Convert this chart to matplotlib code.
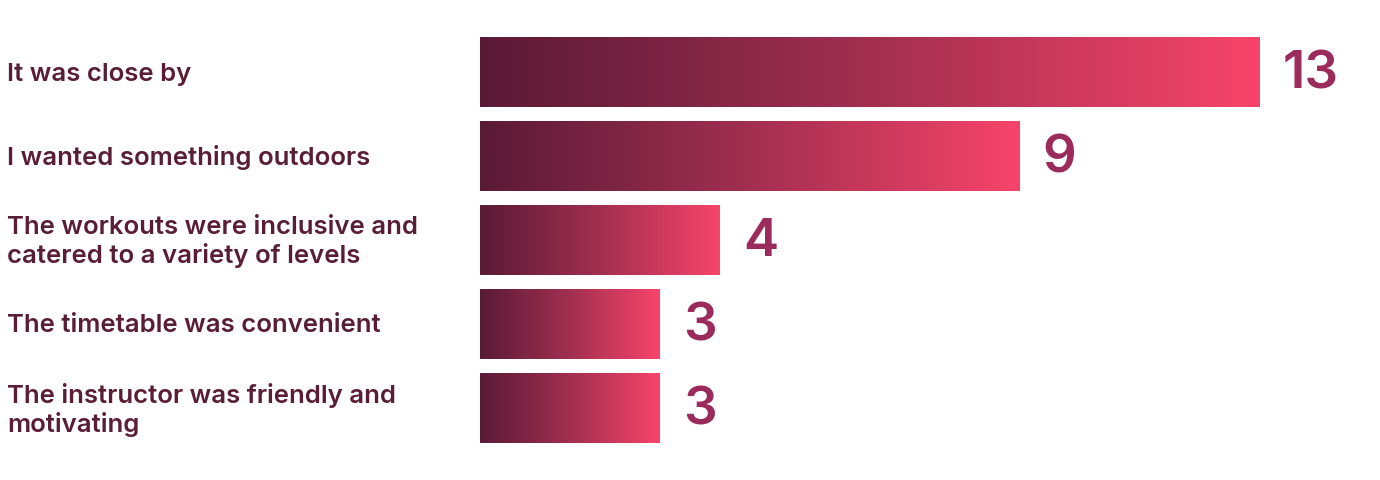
import numpy as np
import matplotlib.pyplot as plt
from matplotlib.colors import LinearSegmentedColormap

labels = [
    "It was close by",
    "I wanted something outdoors",
    "The workouts were inclusive and\ncatered to a variety of levels",
    "The timetable was convenient",
    "The instructor was friendly and\nmotivating",
]
values = [13, 9, 4, 3, 3]

label_color = "#5a1d36"
value_color = "#9a2b5b"
cmap = LinearSegmentedColormap.from_list("grad", ["#5a1a36", "#a22f50", "#f7446a"])

fig = plt.figure(figsize=(13.8, 4.8), dpi=100)
ax = fig.add_axes([480 / 1380, 0, 900 / 1380, 1])
ax.set_xlim(0, 15)
ax.set_ylim(480, 0)
ax.axis("off")

grad = np.linspace(0, 1, 256).reshape(1, -1)
for i, (lab, v) in enumerate(zip(labels, values)):
    yc = 72 + 84 * i
    ax.imshow(grad, cmap=cmap, aspect="auto", extent=[0, v, yc + 35, yc - 35],
              interpolation="bilinear")
    ax.text(v + 0.38, yc + 3, str(v), ha="left", va="center", fontsize=38,
            color=value_color, family="Inter", fontweight="semibold")
    fig.text(7 / 1380, 1 - (yc + 2) / 480, lab, ha="left", va="center", fontsize=18.5,
             color=label_color, family="Inter", fontweight="semibold", linespacing=1.2)

ax.set_xlim(0, 15)
ax.set_ylim(480, 0)
fig.savefig("out.png", dpi=100)
